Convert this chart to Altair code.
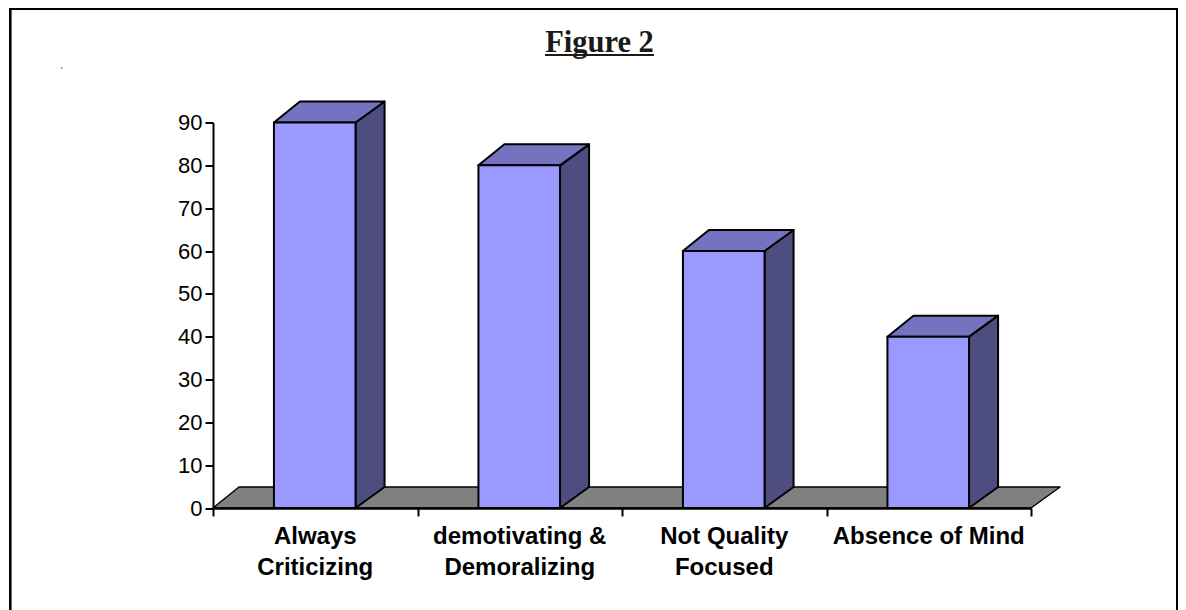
import altair as alt
import pandas as pd

categories = ["Always\nCriticizing", "demotivating &\nDemoralizing", "Not Quality\nFocused", "Absence of Mind"]
values = [90, 80, 60, 40]
y_ticks = [0, 10, 20, 30, 40, 50, 60, 70, 80, 90]
x_ticks = [0, 1, 2, 3, 4]
title_text = "Figure 2"

BAR_LO, BAR_HI = 0.298, 0.697
DX_L, DX_R, DY = 0.127, 0.142, 4.9
PW, PH = 818, 385.5

front, top, side, labels = [], [], [], []
for i, (c, v) in enumerate(zip(categories, values)):
    x0, x1 = i + BAR_LO, i + BAR_HI
    front.append({"x": x0, "x2": x1, "y": 0, "y2": v})
    for x, lo, hi in [(x0, v, v), (x0 + DX_L, v, v + DY), (x1, v, v + DY), (x1 + DX_R, v + DY, v + DY)]:
        top.append({"b": i, "x": x, "lo": lo, "hi": hi})
    for x, lo, hi in [(x1, 0, v), (x1 + DX_R, DY, v + DY)]:
        side.append({"b": i, "x": x, "lo": lo, "hi": hi})
    labels.append({"x": i + 0.5, "label": c})
floor = [
    {"b": 0, "x": 0, "lo": 0, "hi": 0},
    {"b": 0, "x": DX_L, "lo": 0, "hi": DY},
    {"b": 0, "x": 4, "lo": 0, "hi": DY},
    {"b": 0, "x": 4 + DX_R, "lo": DY, "hi": DY},
]

xs = alt.Scale(domain=[0, 4], nice=False, zero=False)
ys = alt.Scale(domain=[0, 90], nice=False, zero=False)
FONT = "Liberation Sans"


def poly(rows, color, sw):
    return alt.Chart(pd.DataFrame(rows)).mark_area(
        color=color, stroke="black", strokeWidth=sw, strokeJoin="round", interpolate="linear", opacity=1
    ).encode(
        x=alt.X("x:Q", scale=xs, title=None),
        y=alt.Y("hi:Q", scale=ys, title=None),
        y2="lo:Q",
        detail="b:N",
    )


x_axis = alt.Axis(
    values=x_ticks, labels=False, title=None, grid=False, tickSize=8, tickWidth=2, tickColor="black",
    domainColor="black", domainWidth=2.5, zindex=1)
y_axis = alt.Axis(
    values=y_ticks, title=None, grid=False, tickSize=8, tickWidth=2, tickColor="black",
    domainColor="black", domainWidth=2, labelFont=FONT, labelFontSize=22, labelColor="black",
    labelPadding=3, zindex=1)

floor_l = poly(floor, "#808080", 1.5).encode(
    x=alt.X("x:Q", scale=xs, axis=x_axis),
    y=alt.Y("hi:Q", scale=ys, axis=y_axis),
)
side_l = poly(side, "#4D4D80", 2)
top_l = poly(top, "#7373BF", 2)

front_l = alt.Chart(pd.DataFrame(front)).mark_rect(color="#9999FF", stroke="black", strokeWidth=2).encode(
    x=alt.X("x:Q", scale=xs, title=None), x2="x2:Q",
    y=alt.Y("y:Q", scale=ys, title=None), y2="y2:Q",
)

text_l = alt.Chart(pd.DataFrame(labels)).mark_text(
    font=FONT, fontSize=24, fontWeight="bold", color="black", lineBreak="\n", lineHeight=31,
    baseline="top", align="center",
).encode(x=alt.X("x:Q", scale=xs, title=None), y=alt.value(PH + 17), text="label:N")

title_l = alt.Chart(pd.DataFrame({"t": [title_text]})).mark_text(
    font="Liberation Serif", fontSize=30.5, fontWeight="bold", color="#1a1a1a", baseline="alphabetic",
).encode(x=alt.value(599.5 - 213), y=alt.value(52 - 122.5), text="t:N")


def rule(x, y, x2, y2, w, color="black"):
    return alt.Chart(pd.DataFrame({"a": [0]})).mark_rule(color=color, strokeWidth=w).encode(
        x=alt.value(x), y=alt.value(y), x2=alt.value(x2), y2=alt.value(y2))


underline = rule(545 - 213, 55 - 122.5, 654 - 213, 55 - 122.5, 1.8, "#1a1a1a")
frame_top = rule(9 - 213, 8.8 - 122.5, 1178 - 213, 8.8 - 122.5, 2.6)
frame_left = rule(10.3 - 213, 8 - 122.5, 10.3 - 213, 610 - 122.5, 2.6)
frame_right = rule(1177 - 213, 8 - 122.5, 1177 - 213, 610 - 122.5, 2)
speck = rule(61 - 213, 68 - 122.5, 62.5 - 213, 68 - 122.5, 1, "#444444")

chart = alt.layer(
    floor_l, side_l, top_l, front_l, text_l, title_l, underline,
    frame_top, frame_left, frame_right, speck,
).properties(
    width=PW, height=PH, autosize="none", background="white",
    padding={"left": 205, "top": 114.5, "right": 147, "bottom": 102},
).configure_view(stroke="transparent")

chart.save("out.html", embed_options={"renderer": "svg", "actions": False})
